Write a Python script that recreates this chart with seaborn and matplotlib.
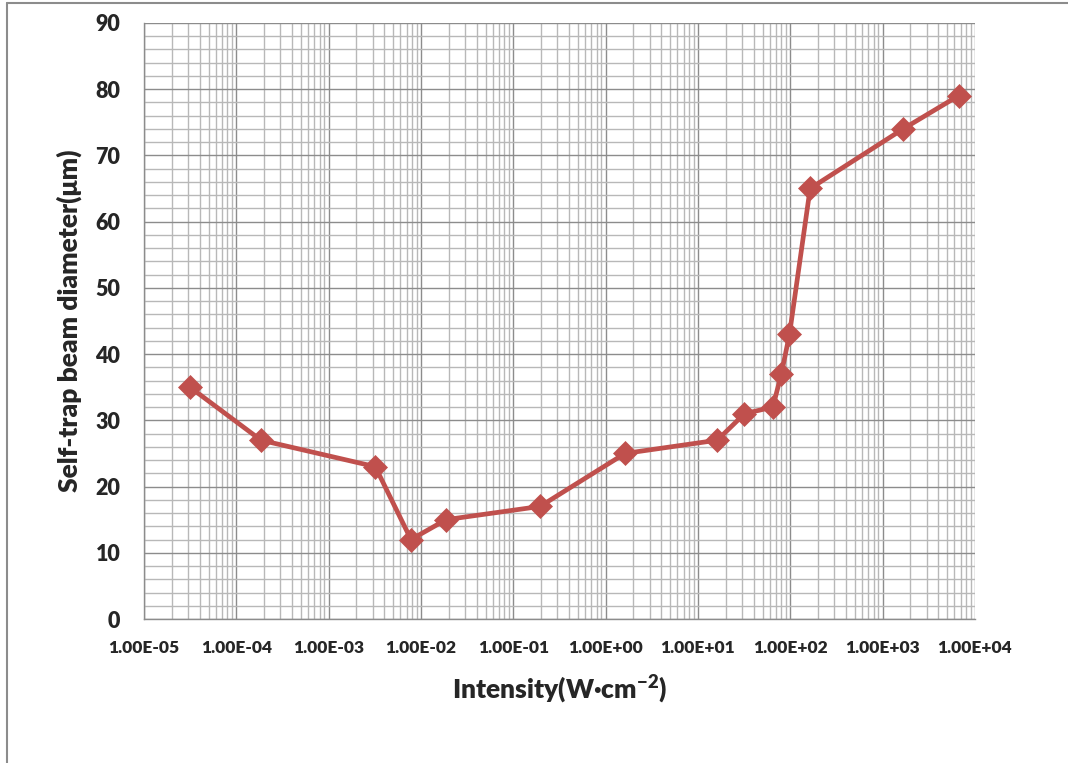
import numpy as np
import pandas as pd
import matplotlib
matplotlib.use("Agg")
import matplotlib.pyplot as plt
from matplotlib.ticker import LogLocator, FuncFormatter, MultipleLocator
from matplotlib.lines import Line2D
import seaborn as sns

# Measured self-trapping beam diameter versus input intensity
intensity = [3.15e-5, 1.85e-4, 3.2e-3, 7.8e-3, 1.87e-2, 0.195, 1.62, 16.2,
             31.9, 64.7, 80.0, 98.0, 164.0, 1670.0, 6640.0]
diameter = [35, 27, 23, 12, 15, 17, 25, 27, 31, 32, 37, 43, 65, 74, 79]

x_label = "Intensity(W·cm$^{\\mathbf{-2}}$)"
y_label = "Self-trap beam diameter(μm)"

sns.set_style("white")
plt.rcParams["font.family"] = ["Lato", "DejaVu Sans"]
plt.rcParams["font.weight"] = "heavy"
plt.rcParams["mathtext.fontset"] = "custom"
plt.rcParams["mathtext.bf"] = "Lato:heavy"
plt.rcParams["mathtext.rm"] = "Lato:heavy"

W = "heavy"

df = pd.DataFrame({"intensity": intensity, "diameter": diameter})

fig = plt.figure(figsize=(10.68, 7.63), dpi=100)
ax = fig.add_axes([0.1348, 0.1887, 0.7781, 0.7813])

line_color = "#C0504D"
sns.lineplot(data=df, x="intensity", y="diameter", ax=ax, color=line_color,
             linewidth=3.4, marker="D", markersize=12.5, markeredgecolor=line_color,
             markeredgewidth=0.5, sort=False, zorder=5)

ax.set_xscale("log")
ax.set_xlim(1e-5, 1e4)
ax.set_ylim(0, 90)

ax.xaxis.set_major_locator(LogLocator(base=10, numticks=20))
ax.xaxis.set_minor_locator(LogLocator(base=10, subs=np.arange(2, 10), numticks=100))
ax.xaxis.set_major_formatter(FuncFormatter(lambda v, p: f"{v:.2E}"))
ax.xaxis.set_minor_formatter(FuncFormatter(lambda v, p: ""))
ax.yaxis.set_major_locator(MultipleLocator(10))
ax.yaxis.set_minor_locator(MultipleLocator(2))

ax.grid(True, which="minor", color="#B8B8B8", linewidth=1.0)
ax.grid(True, which="major", color="#8C8C8C", linewidth=1.0)
ax.set_axisbelow(True)

for side in ("top", "right"):
    ax.spines[side].set_visible(False)
for side in ("left", "bottom"):
    ax.spines[side].set_color("#8C8C8C")
    ax.spines[side].set_linewidth(1.0)

ax.tick_params(axis="both", which="major", direction="out", length=7,
               color="#8C8C8C", width=1.0)
ax.tick_params(axis="both", which="minor", length=0)
ax.tick_params(axis="x", labelsize=12.5, pad=8)
ax.tick_params(axis="y", labelsize=15.5, pad=10)
for lbl in ax.get_xticklabels() + ax.get_yticklabels():
    lbl.set_fontweight(W)

ax.set_xlabel(x_label, fontsize=19, fontweight=W, labelpad=12)
ax.set_ylabel(y_label, fontsize=19, fontweight=W, labelpad=10)

# outer chart frame
fig.add_artist(Line2D([7 / 1068, 7 / 1068], [0, 1 - 3 / 763], transform=fig.transFigure,
                      color="#8C8C8C", linewidth=1.5))
fig.add_artist(Line2D([7 / 1068, 1], [1 - 3 / 763, 1 - 3 / 763], transform=fig.transFigure,
                      color="#8C8C8C", linewidth=1.5))

fig.savefig("out.png", dpi=100, facecolor="white")
